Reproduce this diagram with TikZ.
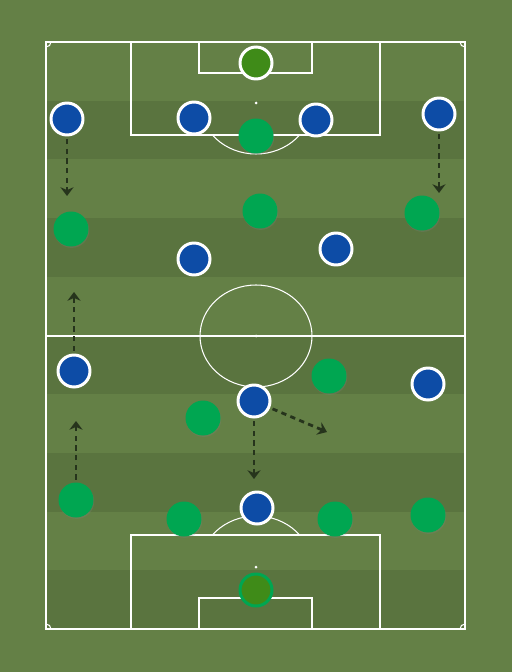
\documentclass[tikz,border=0pt]{standalone}
\usepackage{tikz}
\usetikzlibrary{arrows.meta, shadows}
\definecolor{grassLight}{RGB}{100,128,70}
\definecolor{grassDark}{RGB}{90,116,63}
\definecolor{homeBlue}{RGB}{13,76,166}
\definecolor{awayGreen}{RGB}{0,166,81}
\definecolor{keeperGreen}{RGB}{63,139,24}
\definecolor{runColor}{RGB}{38,52,28}
\tikzset{
    pitchline/.style={
        draw=white,
        line width=0.6pt
    },
    homeplayer/.style={
        circle,
        draw=white,
        line width=1.7pt,
        fill=homeBlue,
        minimum size=0.64cm,
        inner sep=0pt
    },
    awayplayer/.style={
        circle,
        fill=awayGreen,
        minimum size=0.7cm,
        inner sep=0pt,
        drop shadow={shadow xshift=0.4pt, shadow yshift=-0.8pt, opacity=0.25}
    },
    homekeeper/.style={
        homeplayer,
        fill=keeperGreen
    },
    awaykeeper/.style={
        homeplayer,
        draw=awayGreen,
        fill=keeperGreen
    },
    run/.style={
        -{Stealth[length=5pt, width=7.5pt]},
        draw=runColor,
        line width=1.6pt,
        dash pattern=on 3pt off 2.5pt,
        shorten <=1.5pt
    }
}

\begin{document}
\begin{tikzpicture}[x=0.02cm, y=-0.02cm]
    % grass
    \fill[grassLight] (0,0) rectangle (512,672);
    \useasboundingbox (0,0) rectangle (512,672);
    \foreach \k in {0,...,4}
        \fill[grassDark] (46,{42+(2*\k+1)*58.7}) rectangle (465,{42+(2*\k+2)*58.7});

    % lines
    \draw[pitchline] (46,42) rectangle (465,629);
    \draw[pitchline] (46,336) -- (465,336);
    \draw[pitchline] (256,336) ellipse (56 and 51);
    \fill[white] (256,336) circle (1.5);
    \draw[pitchline] (131,42) rectangle (380,135);
    \draw[pitchline] (199,42) rectangle (312,73);
    \fill[white] (256,103) circle (1.5);
    \draw[pitchline] (131,535) rectangle (380,629);
    \draw[pitchline] (199,598) rectangle (312,629);
    \fill[white] (256,567) circle (1.5);
    \begin{scope}
        \clip (46,135) rectangle (465,200);
        \draw[pitchline] (256,103) ellipse (56 and 51);
    \end{scope}
    \begin{scope}
        \clip (46,470) rectangle (465,535);
        \draw[pitchline] (256,567) ellipse (56 and 51);
    \end{scope}
    \begin{scope}
        \clip (46,42) rectangle (465,629);
        \foreach \cx/\cy in {46/42, 465/42, 46/629, 465/629}
            \draw[pitchline] (\cx,\cy) circle (5);
    \end{scope}

    % blue side
    \node[homekeeper] (bGK) at (256,63) {};
    \node[homeplayer] (bLB) at (67,119) {};
    \node[homeplayer] (bLCB) at (194,118) {};
    \node[homeplayer] (bRCB) at (316,120) {};
    \node[homeplayer] (bRB) at (439,114) {};
    \node[homeplayer] (bLDM) at (194,259) {};
    \node[homeplayer] (bRDM) at (336,249) {};
    \node[homeplayer] (bLW) at (74,371) {};
    \node[homeplayer] (bAM) at (254,401) {};
    \node[homeplayer] (bRW) at (428,384) {};
    \node[homeplayer] (bST) at (257,508) {};

    % green side
    \node[awayplayer] (gST) at (256,136) {};
    \node[awayplayer] (gAM) at (260,211) {};
    \node[awayplayer] (gLW) at (71,229) {};
    \node[awayplayer] (gRW) at (422,213) {};
    \node[awayplayer] (gRCM) at (329,376) {};
    \node[awayplayer] (gLCM) at (203,418) {};
    \node[awayplayer] (gRB) at (76,500) {};
    \node[awayplayer] (gRCB) at (184,519) {};
    \node[awayplayer] (gLCB) at (335,519) {};
    \node[awayplayer] (gLB) at (428,515) {};
    \node[awaykeeper] (gGK) at (256,590) {};

    % runs
    \coordinate (r1) at (67,196);
    \coordinate (r2) at (439,193);
    \coordinate (r3) at (74,292);
    \coordinate (r4) at (76,421);
    \coordinate (r5) at (254,479);
    \coordinate (r6) at (327,432);
    \draw[run] (bLB) -- (r1);
    \draw[run] (bRB) -- (r2);
    \draw[run] (bLW) -- (r3);
    \draw[run] (gRB) -- (r4);
    \draw[run] (bAM) -- (r5);
    \draw[run] (bAM) -- (r6);
\end{tikzpicture}
\end{document}
